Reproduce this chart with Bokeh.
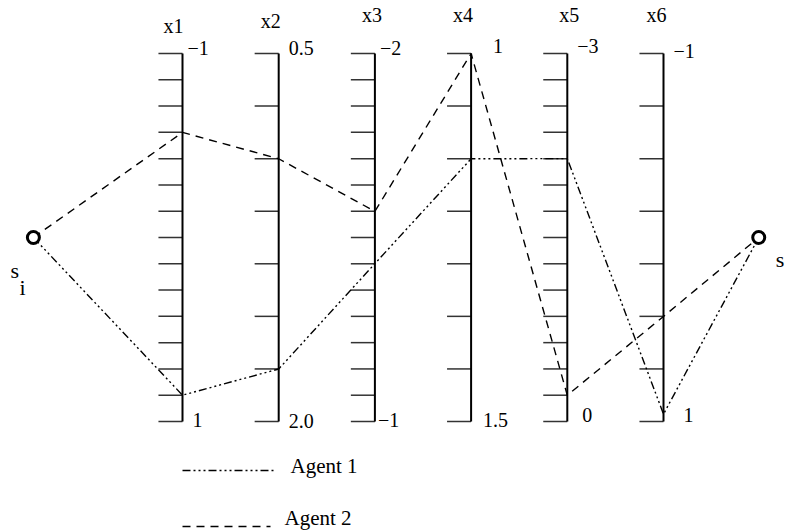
from bokeh.plotting import figure
from bokeh.models import Range1d
from bokeh.core.properties import value
from bokeh.embed import file_html
from bokeh.resources import INLINE

# ---- data ----
axis_names = ["x1", "x2", "x3", "x4", "x5", "x6"]
axis_top = [-1.0, 0.5, -2.0, 1.0, -3.0, -1.0]
axis_bottom = [1.0, 2.0, -1.0, 1.5, 0.0, 1.0]
top_labels = ["\u22121", "0.5", "\u22122", "1", "\u22123", "\u22121"]
bottom_labels = ["1", "2.0", "\u22121", "1.5", "0", "1"]
tick_intervals = [14, 7, 14, 7, 14, 7]
agent1 = [0.857, 1.786, -1.429, 1.143, -2.143, 0.96]
agent2 = [-0.571, 0.929, -1.571, 1.0, -0.214, 0.429]
series_names = ["Agent 1", "Agent 2"]
start_label = ["s", "i"]
end_label = ["s"]

# ---- layout (styles / positions) ----
FONT = value("Liberation Serif")
W, H = 785, 531
PX_PER_UNIT = 96.2          # pixels per axis spacing
PX_PER_T = 368.0            # pixels per normalized axis height
AX1_PX, TOP_PX = 182.0, 53.0
SHIFT = -8                  # baseline correction for text rendering
axis_pos = [i + 1 for i in range(len(axis_names))]
start_x, end_x, node_t = -0.55, 6.99, 0.5
tick_len = 0.25

name_dx = [-9, -8, -3, -8, 2, -7]
name_dy = [d + SHIFT for d in [-20, -25, -31, -31, -31, -31]]
top_dx = [5, 10, 5, 22, 10, 10]
top_dy = [d + SHIFT for d in [2, 2, 2, 0, 0, 5]]
bot_dx = [10, 10, 3, 12, 15, 20]
bot_dy = [d + SHIFT for d in [6, 7, 6, 6, 1, 1]]


def norm(v, i):
    return (v - axis_top[i]) / (axis_bottom[i] - axis_top[i])


x_left = 1 - AX1_PX / PX_PER_UNIT
t_top = -TOP_PX / PX_PER_T
t_bottom = t_top + H / PX_PER_T

p = figure(width=W, height=H, output_backend="svg", toolbar_location=None,
           x_range=Range1d(x_left, x_left + W / PX_PER_UNIT),
           y_range=Range1d(t_bottom, t_top),
           min_border=0, outline_line_color=None)
p.axis.visible = False
p.grid.visible = False
p.background_fill_color = "white"
p.border_fill_color = "white"

# ticks
tx0, tx1, ty = [], [], []
for i, n in enumerate(tick_intervals):
    for k in range(n + 1):
        tx0.append(axis_pos[i] - tick_len)
        tx1.append(axis_pos[i])
        ty.append(k / n)
p.segment(x0=tx0, y0=ty, x1=tx1, y1=ty, line_color="#333333", line_width=1.5)

# vertical axes
p.segment(x0=axis_pos, y0=[0] * 6, x1=axis_pos, y1=[1] * 6,
          line_color="black", line_width=2)

# agent polylines
xs = [start_x] + axis_pos + [end_x]
a1 = [node_t] + [norm(v, i) for i, v in enumerate(agent1)] + [node_t]
a2 = [node_t] + [norm(v, i) for i, v in enumerate(agent2)] + [node_t]
dash1 = "8 3 2 3 2 3 2 3"
dash2 = "8 6"
p.line(xs, a1, line_color="black", line_width=1.4, line_dash=dash1)
p.line(xs, a2, line_color="black", line_width=1.4, line_dash=dash2)

# nodes
p.scatter([start_x, end_x], [node_t, node_t], marker="circle", size=12,
          line_color="black", line_width=3, fill_color="white")

# axis names
p.text(x=axis_pos, y=[0] * 6, text=axis_names, x_offset=name_dx, y_offset=name_dy,
       text_font=FONT, text_font_size="20px", text_align="center",
       text_baseline="alphabetic", text_color="black")
# top / bottom value labels
p.text(x=axis_pos, y=[0] * 6, text=top_labels, x_offset=top_dx, y_offset=top_dy,
       text_font=FONT, text_font_size="20px", text_align="left",
       text_baseline="alphabetic", text_color="black")
p.text(x=axis_pos, y=[1] * 6, text=bottom_labels, x_offset=bot_dx, y_offset=bot_dy,
       text_font=FONT, text_font_size="20px", text_align="left",
       text_baseline="alphabetic", text_color="black")

# node labels
p.text(x=[start_x, start_x], y=[node_t, node_t], text=start_label,
       x_offset=[-23, -14], y_offset=[41 + SHIFT, 58 + SHIFT],
       text_font=FONT, text_font_size="22px", text_align="left",
       text_baseline="alphabetic", text_color="black")
p.text(x=[end_x], y=[node_t], text=end_label, x_offset=[17], y_offset=[30 + SHIFT],
       text_font=FONT, text_font_size="22px", text_align="left",
       text_baseline="alphabetic", text_color="black")

# legend (drawn manually, below the axes)
leg_x0 = axis_pos[0]
leg_t = [(470 - TOP_PX) / PX_PER_T, (526 - TOP_PX) / PX_PER_T]
leg_len = [93 / PX_PER_UNIT, 88 / PX_PER_UNIT]
p.line([leg_x0, leg_x0 + leg_len[0]], [leg_t[0], leg_t[0]], line_color="black",
       line_width=1.4, line_dash=dash1)
p.line([leg_x0, leg_x0 + leg_len[1]], [leg_t[1], leg_t[1]], line_color="black",
       line_width=1.4, line_dash=dash2)
p.text(x=[leg_x0 + 108 / PX_PER_UNIT, leg_x0 + 102 / PX_PER_UNIT],
       y=[(473 - TOP_PX) / PX_PER_T, (527 - TOP_PX) / PX_PER_T], text=series_names,
       y_offset=[SHIFT, SHIFT - 2],
       text_font=FONT, text_font_size="21px", text_align="left",
       text_baseline="alphabetic", text_color="black")

open("out.html", "w").write(file_html(p, INLINE))
